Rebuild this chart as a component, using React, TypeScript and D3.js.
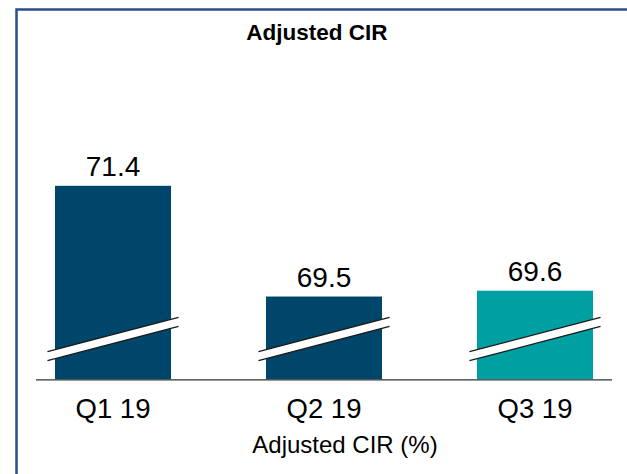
import React from "react";
import * as d3 from "d3";

const categories = ["Q1 19", "Q2 19", "Q3 19"];
const values = [71.4, 69.5, 69.6];
const valueLabels = ["71.4", "69.5", "69.6"];
const barColors = ["#00456A", "#00456A", "#009FA1"];
const chartTitle = "Adjusted CIR";
const axisTitle = "Adjusted CIR (%)";
const yBase = 68.08;

const W = 627;
const H = 474;

export default function App() {
  const x = d3
    .scaleBand<string>()
    .domain(categories)
    .range([36, 612])
    .paddingInner(0.45)
    .paddingOuter(0.09);
  const y = d3.scaleLinear().domain([yBase, 71.4]).range([379.3, 185.8]);
  const font = "Liberation Sans, Arial, Helvetica, sans-serif";
  const slope = -0.263;
  const breakMidY = 339; // at bar center
  const gap = 9;
  const ext = 7.5;

  return (
    <svg
      width={W}
      height={H}
      style={{ position: "absolute", left: 0, top: 0, background: "#fff" }}
      fontFamily={font}
    >
      <rect x={16.5} y={9.5} width={W + 20} height={H + 20} fill="#fff" stroke="#2B4D8C" strokeWidth={2.5} />
      <text x={317} y={40} textAnchor="middle" fontWeight="bold" fontSize={22.5} fill="#000">
        {chartTitle}
      </text>
      {categories.map((c, i) => {
        const bx = x(c)!;
        const bw = x.bandwidth();
        const cx = bx + bw / 2;
        const x1 = bx - ext;
        const x2 = bx + bw + ext;
        const yAt = (xx: number, off: number) => breakMidY + off + slope * (xx - cx);
        const up = -gap / 2;
        const lo = gap / 2;
        const poly = `${x1},${yAt(x1, up)} ${x2},${yAt(x2, up)} ${x2},${yAt(x2, lo)} ${x1},${yAt(x1, lo)}`;
        return (
          <g key={c}>
            <rect x={bx} y={y(values[i])} width={bw} height={y(yBase) - y(values[i])} fill={barColors[i]} />
            <polygon points={poly} fill="#fff" />
            <line x1={x1} y1={yAt(x1, up)} x2={x2} y2={yAt(x2, up)} stroke="#1a1a1a" strokeWidth={1.3} />
            <line x1={x1} y1={yAt(x1, lo)} x2={x2} y2={yAt(x2, lo)} stroke="#1a1a1a" strokeWidth={1.3} />
            <text x={cx} y={y(values[i]) - 9.5} textAnchor="middle" fontSize={28} fill="#000">
              {valueLabels[i]}
            </text>
            <text x={cx} y={418} textAnchor="middle" fontSize={27.5} fill="#000">
              {c}
            </text>
          </g>
        );
      })}
      <line x1={36} x2={612} y1={379.8} y2={379.8} stroke="#333" strokeWidth={1.2} />
      <text x={345} y={453} textAnchor="middle" fontSize={24} fill="#000">
        {axisTitle}
      </text>
    </svg>
  );
}
